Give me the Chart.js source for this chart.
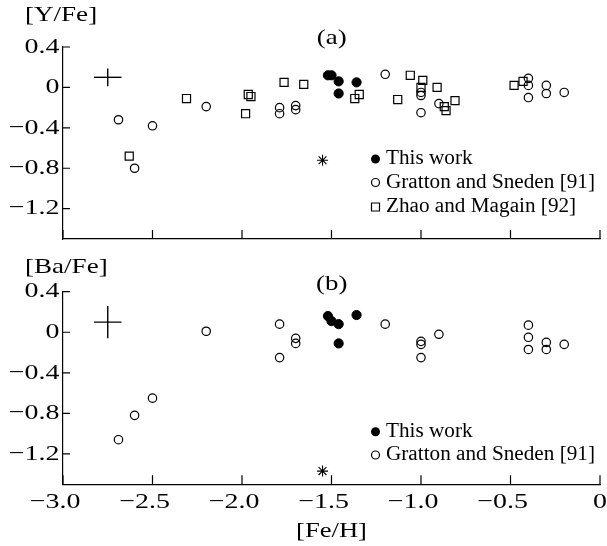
<!DOCTYPE html>
<html>
<head>
<meta charset="utf-8">
<script src="https://cdn.jsdelivr.net/npm/chart.js@4/dist/chart.umd.min.js"></script>
<style>
  html, body { margin: 0; padding: 0; background: #fff; }
  #wrap { position: relative; width: 607px; height: 546px; }
  .panel { position: absolute; left: 0; width: 607px; }
  canvas { display: block; }
</style>
</head>
<body>
<div id="wrap">
  <div class="panel" style="top:0;height:250px"><canvas id="yfe" width="607" height="250" style="width:607px;height:250px"></canvas></div>
  <div class="panel" style="top:250px;height:296px"><canvas id="bafe" width="607" height="296" style="width:607px;height:296px"></canvas></div>
</div>
<script>
// Axis ticks
const feHTicks = [-3.0, -2.5, -2.0, -1.5, -1.0, -0.5, 0];
const abundanceTicks = [0.4, 0, -0.4, -0.8, -1.2];

// This work
const thisWorkFeH  = [-1.52, -1.50, -1.46, -1.36, -1.46];
const thisWorkYFe  = [0.12, 0.12, 0.06, 0.05, -0.06];
const thisWorkBaFe = [0.16, 0.11, 0.08, 0.17, -0.11];

// Gratton and Sneden [91]
const grattonFeH  = [-2.69, -2.60, -2.50, -2.20, -1.79, -1.79, -1.70, -1.70, -1.20, -1.00, -1.00, -1.00, -0.90, -0.40, -0.40, -0.40, -0.30, -0.30, -0.20];
const grattonYFe  = [-0.32, -0.80, -0.38, -0.19, -0.20, -0.26, -0.18, -0.22, 0.13, -0.05, -0.08, -0.25, -0.16, 0.09, 0.02, -0.10, 0.02, -0.06, -0.05];
const grattonBaFe = [-1.06, -0.82, -0.65, 0.01, 0.08, -0.25, -0.06, -0.11, 0.08, -0.09, -0.12, -0.25, -0.02, 0.07, -0.05, -0.17, -0.10, -0.17, -0.12];

// Zhao and Magain [92]
const zhaoFeH = [-2.63, -2.31, -1.98, -1.965, -1.95, -1.765, -1.655, -1.37, -1.345, -1.13, -1.06, -0.99, -1.00, -0.91, -0.87, -0.86, -0.81, -0.48, -0.43];
const zhaoYFe = [-0.68, -0.11, -0.26, -0.07, -0.09, 0.05, 0.03, -0.11, -0.07, -0.12, 0.12, 0.07, 0.00, 0.00, -0.19, -0.23, -0.13, 0.02, 0.06];

// Single reference star (asterisk)
const starFeH  = [-1.55];
const starYFe  = [-0.72];
const starBaFe = [-1.37];

// Typical error bars: [centre, half-length]
const errFeH  = [-2.75, 0.077];
const errYFe  = [0.10, 0.088];
const errBaFe = [0.10, 0.16];

const SERIF = '"Liberation Serif", "Times New Roman", serif';

function pts(xs, ys) { return xs.map((x, i) => ({ x: x, y: ys[i] })); }

function crossSets(ex, ey) {
  const line = { type: 'scatter', showLine: true, pointRadius: 0, borderColor: '#000', borderWidth: 1.4, fill: false };
  return [
    Object.assign({}, line, { data: [{ x: ex[0] - ex[1], y: ey[0] }, { x: ex[0] + ex[1], y: ey[0] }] }),
    Object.assign({}, line, { data: [{ x: ex[0], y: ey[0] - ey[1] }, { x: ex[0], y: ey[0] + ey[1] }] })
  ];
}

const styles = {
  filled: { pointStyle: 'circle', pointRadius: 4.6, backgroundColor: '#000', borderColor: '#000', borderWidth: 1 },
  open:   { pointStyle: 'circle', pointRadius: 4.2, backgroundColor: 'rgba(0,0,0,0)', borderColor: '#000', borderWidth: 1.2 },
  square: { pointStyle: 'rect', pointRadius: 5.7, backgroundColor: 'rgba(0,0,0,0)', borderColor: '#000', borderWidth: 1.2 },
  star:   { pointStyle: 'star', pointRadius: 5.5, backgroundColor: '#000', borderColor: '#000', borderWidth: 1.1 }
};

function series(label, xs, ys, style) {
  return Object.assign({ label: label, data: pts(xs, ys), pointHoverRadius: 0 }, styles[style]);
}

function fmt(v) {
  if (v === 0) return '0';
  return (v < 0 ? '\u2212' : '') + Math.abs(v).toFixed(1);
}

function drawText(ctx, str, x, y, size, sx, align) {
  ctx.save();
  ctx.font = size + 'px ' + SERIF;
  ctx.textBaseline = 'middle';
  ctx.textAlign = 'left';
  ctx.fillStyle = '#000';
  const w = ctx.measureText(str).width * sx;
  const left = align === 'right' ? x - w : (align === 'center' ? x - w / 2 : x);
  ctx.translate(left, y);
  ctx.scale(sx, 1);
  ctx.fillText(str, 0, 0);
  ctx.restore();
  return w;
}

function textWidth(ctx, str, size, sx) {
  ctx.save();
  ctx.font = size + 'px ' + SERIF;
  const w = ctx.measureText(str).width * sx;
  ctx.restore();
  return w;
}

function drawMarker(ctx, style, x, y) {
  ctx.save();
  ctx.strokeStyle = '#000';
  ctx.fillStyle = '#000';
  ctx.lineWidth = 1.2;
  ctx.beginPath();
  if (style === 'filled') { ctx.arc(x, y, 4.5, 0, Math.PI * 2); ctx.fill(); }
  else if (style === 'open') { ctx.arc(x, y, 4, 0, Math.PI * 2); ctx.stroke(); }
  else { ctx.rect(x - 4, y - 4, 8, 8); ctx.stroke(); }
  ctx.restore();
}

function decorPlugin(opt) {
  return {
    id: 'panelDecor',
    afterDraw(chart) {
      const ctx = chart.ctx, xs = chart.scales.x, ys = chart.scales.y, a = chart.chartArea;
      // inward tick marks
      ctx.save();
      ctx.strokeStyle = '#000';
      ctx.lineWidth = 1.2;
      ctx.beginPath();
      abundanceTicks.forEach(v => {
        const p = ys.getPixelForValue(v);
        ctx.moveTo(a.left, p); ctx.lineTo(a.left + 7, p);
      });
      feHTicks.forEach(v => {
        const p = xs.getPixelForValue(v);
        ctx.moveTo(p, a.bottom); ctx.lineTo(p, a.bottom - 9);
      });
      ctx.stroke();
      ctx.restore();

      // y tick labels
      abundanceTicks.forEach(v => drawText(ctx, fmt(v), a.left - 3.5, ys.getPixelForValue(v), 22, 1.27, 'right'));

      // x tick labels: the number is centred on the tick, the minus sign hangs to its left
      if (opt.xLabels) {
        feHTicks.forEach(v => {
          const p = xs.getPixelForValue(v);
          const y = a.bottom + 18;
          const num = v === 0 ? '0' : Math.abs(v).toFixed(1);
          const w = drawText(ctx, num, p, y, 22, 1.27, 'center');
          if (v < 0) drawText(ctx, '\u2212', p - w / 2, y, 22, 1.27, 'right');
        });
        drawText(ctx, opt.xTitle, (a.left + a.right) / 2, opt.xTitleY, 22, 1.21, 'center');
      }

      // axis title and panel tag
      drawText(ctx, opt.yTitle, 25, opt.yTitleY, 22, 1.23, 'left');
      drawText(ctx, opt.tag, 331.7, opt.tagY, 21.5, 1.25, 'center');

      // legend
      opt.legend.forEach((item, i) => {
        const y = opt.legendRows[i];
        drawMarker(ctx, item.style, 375.5, y);
        drawText(ctx, item.label, 386, y, 20, 1.06, 'left');
      });
    }
  };
}

function buildPanel(id, datasets, layout, decor) {
  const canvas = document.getElementById(id);
  const H = canvas.height;
  return new Chart(canvas, {
    type: 'scatter',
    data: { datasets: datasets },
    options: {
      responsive: false,
      devicePixelRatio: 1,
      animation: false,
      events: [],
      layout: { padding: { top: layout.top, right: 7, left: 0, bottom: 0 } },
      plugins: { legend: { display: false }, tooltip: { enabled: false } },
      scales: {
        x: {
          type: 'linear', min: -3, max: 0,
          afterBuildTicks: s => { s.ticks = feHTicks.map(v => ({ value: v })); },
          afterFit: s => { s.height = H - layout.bottom; },
          ticks: { display: false },
          grid: { display: true, drawOnChartArea: false, drawTicks: false },
          border: { display: true, color: '#000', width: 1.2 }
        },
        y: {
          type: 'linear', min: -1.5, max: 0.4,
          afterBuildTicks: s => { s.ticks = abundanceTicks.map(v => ({ value: v })); },
          afterFit: s => { s.width = 63; },
          ticks: { display: false },
          grid: { display: true, drawOnChartArea: false, drawTicks: false },
          border: { display: true, color: '#000', width: 1.2 }
        }
      }
    },
    plugins: [decorPlugin(decor)]
  });
}

// (a) [Y/Fe]
buildPanel('yfe', [
  ...crossSets(errFeH, errYFe),
  series('Zhao and Magain [92]', zhaoFeH, zhaoYFe, 'square'),
  series('Gratton and Sneden [91]', grattonFeH, grattonYFe, 'open'),
  series('This work', thisWorkFeH, thisWorkYFe, 'filled'),
  series('', starFeH, starYFe, 'star')
], { top: 47, bottom: 239 }, {
  xLabels: false,
  yTitle: '[Y/Fe]', yTitleY: 15,
  tag: '(a)', tagY: 38,
  legend: [
    { label: 'This work', style: 'filled' },
    { label: 'Gratton and Sneden [91]', style: 'open' },
    { label: 'Zhao and Magain [92]', style: 'square' }
  ],
  legendRows: [159, 182.5, 207]
});

// (b) [Ba/Fe]
buildPanel('bafe', [
  ...crossSets(errFeH, errBaFe),
  series('Gratton and Sneden [91]', grattonFeH, grattonBaFe, 'open'),
  series('This work', thisWorkFeH, thisWorkBaFe, 'filled'),
  series('', starFeH, starBaFe, 'star')
], { top: 41.7, bottom: 234.3 }, {
  xLabels: true,
  xTitle: '[Fe/H]', xTitleY: 281,
  yTitle: '[Ba/Fe]', yTitleY: 17,
  tag: '(b)', tagY: 34,
  legend: [
    { label: 'This work', style: 'filled' },
    { label: 'Gratton and Sneden [91]', style: 'open' }
  ],
  legendRows: [181.7, 205]
});
</script>
</body>
</html>
